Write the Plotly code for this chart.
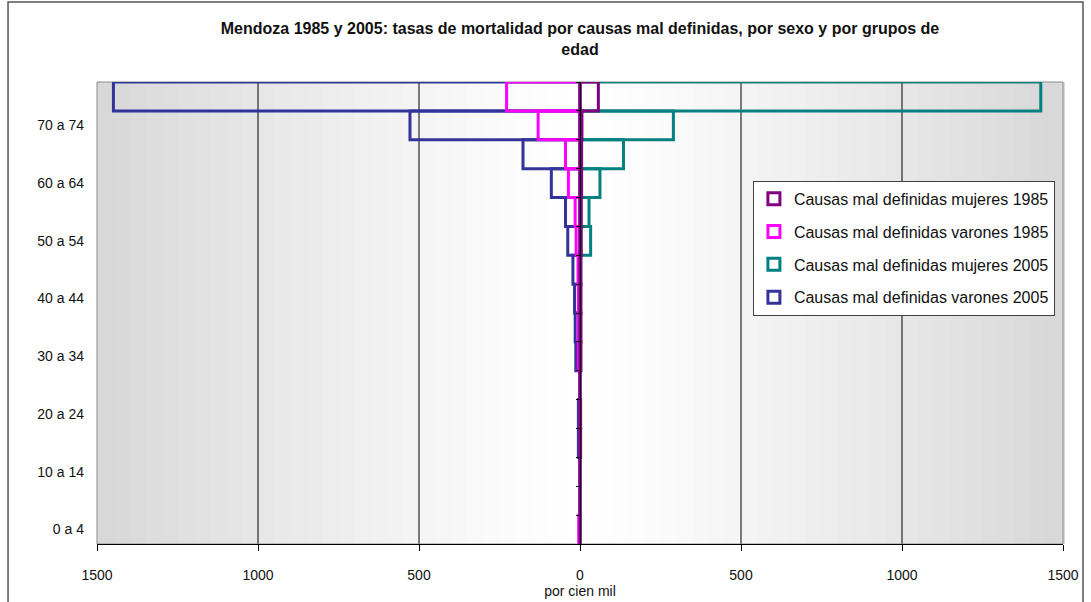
"""Mendoza 1985 y 2005: tasas de mortalidad por causas mal definidas
"""
import plotly.graph_objects as go

grupos = ["0 a 4", "5 a 9", "10 a 14", "15 a 19", "20 a 24", "25 a 29",
          "30 a 34", "35 a 39", "40 a 44", "45 a 49", "50 a 54", "55 a 59",
          "60 a 64", "65 a 69", "70 a 74", "75 y más"]
etiquetas = ["0 a 4", "10 a 14", "20 a 24", "30 a 34",
             "40 a 44", "50 a 54", "60 a 64", "70 a 74"]

# tasas por cien mil (varones en negativo para el lado izquierdo)
mujeres_1985 = [0, 0, 0, 2, 2, 0, 3, 3, 3, 3, 4, 4, 5, 5, 6, 57]
varones_1985 = [-4, 0, 0, 0, 0, 0, -5, -5, -5, -6, -12, -15, -36, -45, -130, -228]
mujeres_2005 = [0, 0, 0, 0, 0, 0, 0, 0, 0, 0, 33, 28, 62, 135, 290, 1431]
varones_2005 = [0, 0, 0, -5, -5, 0, -13, -15, -17, -22, -38, -45, -89, -177, -528, -1449]

x_ticks = [-1500, -1000, -500, 0, 500, 1000, 1500]
x_text = [str(abs(v)) for v in x_ticks]

FONT = "Liberation Sans, Arial, sans-serif"

series = [
    # (nombre, valores, color, orden en leyenda, eje y)
    ("Causas mal definidas varones 2005", varones_2005, "#333399", 4, "y"),
    ("Causas mal definidas mujeres 2005", mujeres_2005, "#008080", 3, "y"),
    ("Causas mal definidas varones 1985", varones_1985, "#FF00FF", 2, "y"),
    ("Causas mal definidas mujeres 1985", mujeres_1985, "#800080", 1, "y2"),
]

fig = go.Figure()
for name, vals, color, rank, yax in series:
    fig.add_trace(go.Bar(
        y=grupos, x=vals, orientation="h", name=name,
        width=1, yaxis=yax,
        marker=dict(color="rgba(0,0,0,0)", line=dict(color=color, width=3)),
        legendrank=rank, legendgroup=name,
    ))

# gradient background: grey at the edges, white in the middle
shapes = []
n = 60
for i in range(n):
    t = abs((i + 0.5) / n - 0.5) * 2
    g = int(round(255 - 40 * t ** 1.2))
    shapes.append(dict(type="rect", xref="x domain", yref="y domain",
                       x0=i / n, x1=(i + 1) / n + 0.002, y0=0, y1=1,
                       fillcolor="rgb(%d,%d,%d)" % (g, g, g),
                       line=dict(width=0), layer="below"))
for v in [-1000, -500, 500, 1000]:
    shapes.append(dict(type="line", xref="x", yref="y domain",
                       x0=v, x1=v, y0=0, y1=1,
                       line=dict(color="black", width=1), layer="below"))
shapes.append(dict(type="rect", xref="x domain", yref="y domain",
                   x0=0, x1=1, y0=0, y1=1,
                   line=dict(color="#8c8c8c", width=1), layer="below"))
# outer chart frame
shapes.append(dict(type="rect", xref="paper", yref="paper",
                   x0=-0.0921, x1=1.0207, y0=-0.16, y1=1.1732,
                   line=dict(color="#555555", width=1.5)))

fig.update_layout(
    width=1091, height=602,
    margin=dict(l=97, r=28, t=82, b=58, autoexpand=False),
    paper_bgcolor="white", plot_bgcolor="white",
    font=dict(family=FONT, size=14, color="#111111"),
    barmode="overlay",
    showlegend=True,
    title=dict(
        text="<b>Mendoza 1985 y 2005: tasas de mortalidad por causas mal definidas, "
             "por sexo y por grupos de<br>edad</b>",
        x=0.5, xref="paper", xanchor="center", y=0.943, yanchor="top",
        automargin=False,
        font=dict(family=FONT, size=16, color="#111111")),
    legend=dict(x=0.679, y=0.786, xanchor="left", yanchor="top",
                bgcolor="white", bordercolor="#404040", borderwidth=1,
                font=dict(family=FONT, size=16, color="#111111"),
                traceorder="grouped", tracegroupgap=9),
    xaxis=dict(range=[-1500, 1500], tickvals=x_ticks, ticktext=x_text,
               automargin=False,
               showgrid=False, zeroline=False, showline=True, linecolor="black",
               ticks="outside", ticklen=6, tickcolor="black",
               ticklabelstandoff=12,
               title=dict(text="por cien mil", standoff=2,
                          font=dict(size=14))),
    yaxis=dict(type="category", categoryorder="array", categoryarray=grupos,
               automargin=False,
               range=[-0.5, 15.5], tickvals=etiquetas, showgrid=False,
               ticks="", ticklabelstandoff=12, showline=False),
    yaxis2=dict(type="category", categoryorder="array", categoryarray=grupos,
                automargin=False,
                overlaying="y", matches="y", anchor="free", position=0.5,
                side="left", showline=True, linecolor="black",
                ticks="outside", ticklen=4, tickcolor="black",
                tickson="boundaries", showticklabels=False, showgrid=False),
    shapes=shapes,
)

# the page's default body margin would push the chart 8px right and down
fig.write_html("out.html", config={"displayModeBar": False},
               post_script="document.body.style.margin = '0px';")
